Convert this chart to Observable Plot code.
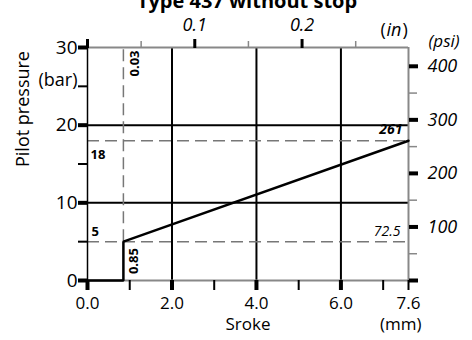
<!DOCTYPE html>
<html>
<head>
<meta charset="utf-8">
<script src="https://cdn.jsdelivr.net/npm/d3@7"></script>
<script src="https://cdn.jsdelivr.net/npm/@observablehq/plot@0.6"></script>
<style>
  html, body { margin: 0; padding: 0; background: #fff; }
  svg { display: block; }
</style>
</head>
<body>
<div id="chart"></div>
<script>
// ---- data ----
const strokeMm = [0, 0.85, 0.85, 7.6];
const pressureBar = [0, 0, 5, 18];

const xMajorTicks = [0, 2, 4, 6, 7.6];
const xMinorTicks = [1, 3, 5, 7];
const yMajorTicks = [0, 10, 20, 30];
const yMinorTicks = [5, 15, 25];
const inchMajorTicks = [0, 0.1, 0.2];
const inchMinorTicks = [0.05, 0.15, 0.25];
const psiMajorTicks = [0, 100, 200, 300, 400];
const psiMinorTicks = [50, 150, 250, 350];
const xGrid = [2, 4, 6];
const yGrid = [10, 20];

const refStrokeMm = 0.85;
const refStrokeIn = 0.03;
const refBar = [5, 18];
const refPsi = [72.5, 261];

const title = "Type 437 without stop";
const MM_PER_IN = 25.4;
const PSI_PER_BAR = 14.5038;

const line = strokeMm.map((x, i) => ({x, y: pressureBar[i]}));
const font = "'Open Sans', 'Noto Sans', sans-serif";

const chart = Plot.plot({
  width: 472,
  height: 340,
  marginLeft: 87,
  marginRight: 64,
  marginTop: 47,
  marginBottom: 60,
  style: {fontFamily: font, fontSize: "18px", color: "#000", background: "#fff"},
  x: {domain: [0, 7.6]},
  y: {domain: [0, 30]},
  marks: [
    // grid
    Plot.ruleX(xGrid, {y1: 0, y2: 30, stroke: "#000", strokeWidth: 2}),
    Plot.ruleY(yGrid, {x1: 0, x2: 7.6, stroke: "#000", strokeWidth: 2}),
    // dashed reference lines
    Plot.ruleX([refStrokeMm], {y1: refBar[0], y2: 30, stroke: "#777", strokeWidth: 1.5, strokeDasharray: "12,6"}),
    Plot.ruleY(refBar, {x1: 0, x2: 7.6, stroke: "#777", strokeWidth: 1.5, strokeDasharray: "12,6"}),
    // frame
    Plot.ruleY([30], {x1: 0, x2: 7.6, stroke: "#888", strokeWidth: 2}),
    Plot.ruleY([0], {x1: 0, x2: 7.6, stroke: "#888", strokeWidth: 2}),
    Plot.ruleX([7.6], {y1: 0, y2: 30, stroke: "#888", strokeWidth: 2}),
    Plot.ruleX([0], {y1: 0, y2: 30, stroke: "#000", strokeWidth: 1.5}),
    // data
    Plot.line(line, {x: "x", y: "y", stroke: "#000", strokeWidth: 2.5, strokeLinejoin: "miter"}),
    // bottom axis
    Plot.axisX({anchor: "bottom", ticks: xMajorTicks.slice(0, 4), tickSize: 10, strokeWidth: 4, tickPadding: 6, tickFormat: d => d.toFixed(1), label: null, fontSize: 17}),
    Plot.axisX({anchor: "bottom", ticks: [7.6], tickSize: 10, strokeWidth: 2, tickPadding: 6, tickFormat: d => d.toFixed(1), label: null, fontSize: 17}),
    Plot.axisX({anchor: "bottom", ticks: xMinorTicks, tickSize: 10, strokeWidth: 2, tickFormat: () => "", label: null}),
    // left axis
    Plot.axisY({anchor: "left", ticks: yMajorTicks, tickSize: 9, strokeWidth: 4, tickPadding: 1, tickFormat: d => String(d), label: null, fontSize: 19}),
    Plot.axisY({anchor: "left", ticks: yMinorTicks, tickSize: 9, strokeWidth: 2, tickFormat: () => "", label: null}),
    // top axis (inches)
    Plot.axisX({anchor: "top", ticks: inchMajorTicks.map(d => d * MM_PER_IN), tickSize: 9, strokeWidth: 3, tickPadding: 8, tickFormat: d => d === 0 ? "" : (d / MM_PER_IN).toFixed(1), label: null, fontStyle: "italic", fontSize: 18}),
    Plot.axisX({anchor: "top", ticks: inchMinorTicks.map(d => d * MM_PER_IN), tickSize: 7, strokeWidth: 1.5, stroke: "#888", tickFormat: () => "", label: null}),
    // right axis (psi)
    Plot.axisY({anchor: "right", ticks: psiMajorTicks.map(d => d / PSI_PER_BAR), tickSize: 9, strokeWidth: 4, tickPadding: 10, tickFormat: d => d === 0 ? "" : String(Math.round(d * PSI_PER_BAR)), label: null, fontStyle: "italic", fontSize: 18}),
    Plot.axisY({anchor: "right", ticks: psiMinorTicks.map(d => d / PSI_PER_BAR), tickSize: 8, strokeWidth: 1.5, stroke: "#888", tickFormat: () => "", label: null}),
    // axis titles & units
    Plot.text([title], {frameAnchor: "top", dx: -1, dy: -40, lineAnchor: "bottom", fontWeight: "bold", fontSize: 20}),
    Plot.text(["(bar)"], {frameAnchor: "top-left", dx: -10, dy: 26, textAnchor: "end", fontSize: 18}),
    Plot.text(["Pilot pressure"], {frameAnchor: "left", dx: -64, dy: 3, rotate: -90, fontSize: 18}),
    Plot.text(["(psi)"], {frameAnchor: "top-right", dx: 20, dy: -13, textAnchor: "start", fontStyle: "italic", fontSize: 17}),
    Plot.text(["("], {frameAnchor: "top-right", dx: -28, dy: -24, textAnchor: "start", fontSize: 18}),
    Plot.text(["in"], {frameAnchor: "top-right", dx: -22, dy: -24, textAnchor: "start", fontStyle: "italic", fontSize: 18}),
    Plot.text([")"], {frameAnchor: "top-right", dx: -6, dy: -24, textAnchor: "start", fontSize: 18}),
    Plot.text(["Sroke"], {frameAnchor: "bottom", dx: 0, dy: 49, fontSize: 17}),
    Plot.text(["(mm)"], {frameAnchor: "bottom-right", dx: 13, dy: 49, fontSize: 17}),
    // reference labels
    Plot.text([refStrokeIn], {x: refStrokeMm, y: 30, dx: 11, dy: 16, rotate: -90, text: d => d.toFixed(2), fontWeight: "bold", fontSize: 13}),
    Plot.text([refStrokeMm], {x: refStrokeMm, y: refBar[0] / 2, dx: 10, rotate: -90, text: d => d.toFixed(2), fontWeight: "bold", fontSize: 13}),
    Plot.text([refBar[1]], {x: 0, y: refBar[1], dx: 3, dy: 14, textAnchor: "start", text: d => String(d), fontWeight: "bold", fontSize: 13}),
    Plot.text([refBar[0]], {x: 0, y: refBar[0], dx: 4, dy: -10, textAnchor: "start", text: d => String(d), fontWeight: "bold", fontSize: 13}),
    Plot.text([refPsi[1]], {x: 7.6, y: refBar[1], dx: -6, dy: -11, textAnchor: "end", text: d => String(d), fontStyle: "italic", fontWeight: "bold", fontSize: 14}),
    Plot.text([refPsi[0]], {x: 7.6, y: refBar[0], dx: -8, dy: -10, textAnchor: "end", text: d => String(d), fontStyle: "italic", fontSize: 14})
  ]
});
document.getElementById("chart").appendChild(chart);
</script>
</body>
</html>
